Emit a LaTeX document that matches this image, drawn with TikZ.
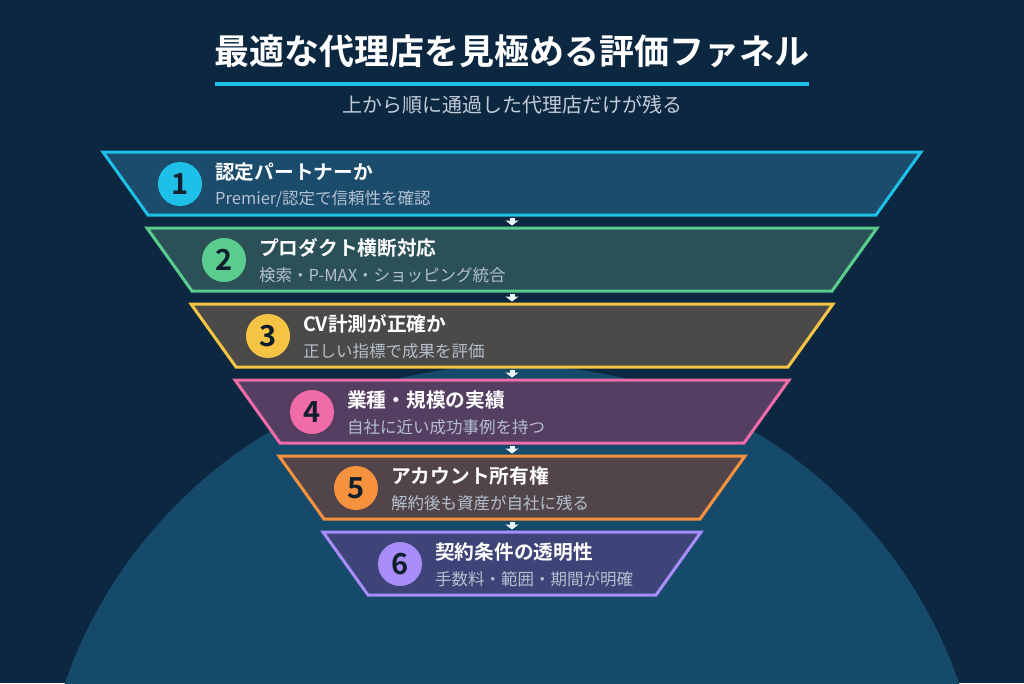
\documentclass[tikz,border=0pt]{standalone}
\usepackage{fontspec}
\setmainfont{Noto Sans CJK JP}[BoldFont={Noto Sans CJK JP Bold}]
\usetikzlibrary{arrows.meta,positioning}
\definecolor{pageBg}{HTML}{0C2840}
\definecolor{glowBg}{HTML}{164A6B}
\definecolor{titleInk}{HTML}{FFFFFF}
\definecolor{subInk}{HTML}{C2CCD8}
\definecolor{detailInk}{HTML}{B4C0CE}
\definecolor{numInk}{HTML}{0F1E2D}
\definecolor{lineCyan}{HTML}{1EC0E8}
\definecolor{fillCyan}{HTML}{1B4C6C}
\definecolor{lineGreen}{HTML}{5ACC8E}
\definecolor{fillGreen}{HTML}{2C5058}
\definecolor{lineYellow}{HTML}{F6C445}
\definecolor{fillYellow}{HTML}{4C4A48}
\definecolor{linePink}{HTML}{F06CA8}
\definecolor{fillPink}{HTML}{543E62}
\definecolor{lineOrange}{HTML}{F6923E}
\definecolor{fillOrange}{HTML}{52454A}
\definecolor{lineViolet}{HTML}{A88CF8}
\definecolor{fillViolet}{HTML}{3F4478}
\tikzstyle{stage} = [rectangle, minimum height=63pt, inner sep=0pt, outer sep=0pt]
\tikzstyle{stageEdge} = [line width=3pt, line join=miter]
\tikzstyle{badge} = [circle, minimum size=44pt, inner sep=0pt, text=numInk, font=\bfseries\fontsize{29}{29}\selectfont]
\tikzstyle{heading} = [anchor=west, inner sep=0pt, text=titleInk, font=\bfseries\fontsize{19.7}{20}\selectfont]
\tikzstyle{detail} = [anchor=west, inner sep=0pt, text=detailInk, font=\fontsize{16.5}{17}\selectfont]
\newcommand{\funnelband}[3]{%
    \path [stageEdge, draw=#2, fill=#3] (#1.north west) -- (#1.north east)
        -- ([xshift=-45pt]#1.south east) -- ([xshift=45pt]#1.south west) -- cycle;}
\begin{document}
\begin{tikzpicture}[x=1pt,y=-1pt]
        \tikzset{flowArrow/.style={draw=titleInk!92!lineCyan, line width=5pt, shorten <=3pt, shorten >=2.5pt, -{Triangle[width=13pt,length=5pt]}}}
        \useasboundingbox (0,0) rectangle (1024,683);
        \fill[pageBg] (0,0) rectangle (1024,683);
        \begin{scope}
            \clip (0,0) rectangle (1024,683);
            \fill[glowBg] (512,838) circle (473pt);
        \end{scope}

        % title block
        \node (mainTitle) [text=titleInk, font=\bfseries\fontsize{35}{35}\selectfont] at (512,51) {最適な代理店を見極める評価ファネル};
        \draw[lineCyan, line width=4pt] (215,84) -- (809,84);
        \node (mainSub) [text=subInk, font=\fontsize{20}{20}\selectfont] at (512,105) {上から順に通過した代理店だけが残る};

        % funnel stages
        \node (stageOne) [stage, minimum width=818pt] at (512,183.5) {};
        \node (stageTwo) [stage, minimum width=730pt] at (512,259.5) {};
        \node (stageThree) [stage, minimum width=642pt] at (512,335.5) {};
        \node (stageFour) [stage, minimum width=554pt] at (512,411.5) {};
        \node (stageFive) [stage, minimum width=466pt] at (512,487.5) {};
        \node (stageSix) [stage, minimum width=378pt] at (512,563.5) {};
        \funnelband{stageOne}{lineCyan}{fillCyan}
        \funnelband{stageTwo}{lineGreen}{fillGreen}
        \funnelband{stageThree}{lineYellow}{fillYellow}
        \funnelband{stageFour}{linePink}{fillPink}
        \funnelband{stageFive}{lineOrange}{fillOrange}
        \funnelband{stageSix}{lineViolet}{fillViolet}

        \node (badgeOne) [badge, fill=lineCyan] at (180,184) {1};
        \node (badgeTwo) [badge, fill=lineGreen] at (224,260) {2};
        \node (badgeThree) [badge, fill=lineYellow] at (268,336) {3};
        \node (badgeFour) [badge, fill=linePink] at (312,412) {4};
        \node (badgeFive) [badge, fill=lineOrange] at (356,488) {5};
        \node (badgeSix) [badge, fill=lineViolet] at (400,564) {6};

        \node (headOne) [heading] at (215,172) {認定パートナーか};
        \node (noteOne) [detail] at (215,199) {Premier/認定で信頼性を確認};
        \node (headTwo) [heading] at (259,248) {プロダクト横断対応};
        \node (noteTwo) [detail] at (259,275) {検索・P-MAX・ショッピング統合};
        \node (headThree) [heading] at (303,324) {CV計測が正確か};
        \node (noteThree) [detail] at (303,351) {正しい指標で成果を評価};
        \node (headFour) [heading] at (347,400) {業種・規模の実績};
        \node (noteFour) [detail] at (347,427) {自社に近い成功事例を持つ};
        \node (headFive) [heading] at (391,476) {アカウント所有権};
        \node (noteFive) [detail] at (391,503) {解約後も資産が自社に残る};
        \node (headSix) [heading] at (435,552) {契約条件の透明性};
        \node (noteSix) [detail] at (435,579) {手数料・範囲・期間が明確};

        \draw [flowArrow] (stageOne.south) -- (stageTwo.north);
        \draw [flowArrow] (stageTwo.south) -- (stageThree.north);
        \draw [flowArrow] (stageThree.south) -- (stageFour.north);
        \draw [flowArrow] (stageFour.south) -- (stageFive.north);
        \draw [flowArrow] (stageFive.south) -- (stageSix.north);
    \end{tikzpicture}
\end{document}
